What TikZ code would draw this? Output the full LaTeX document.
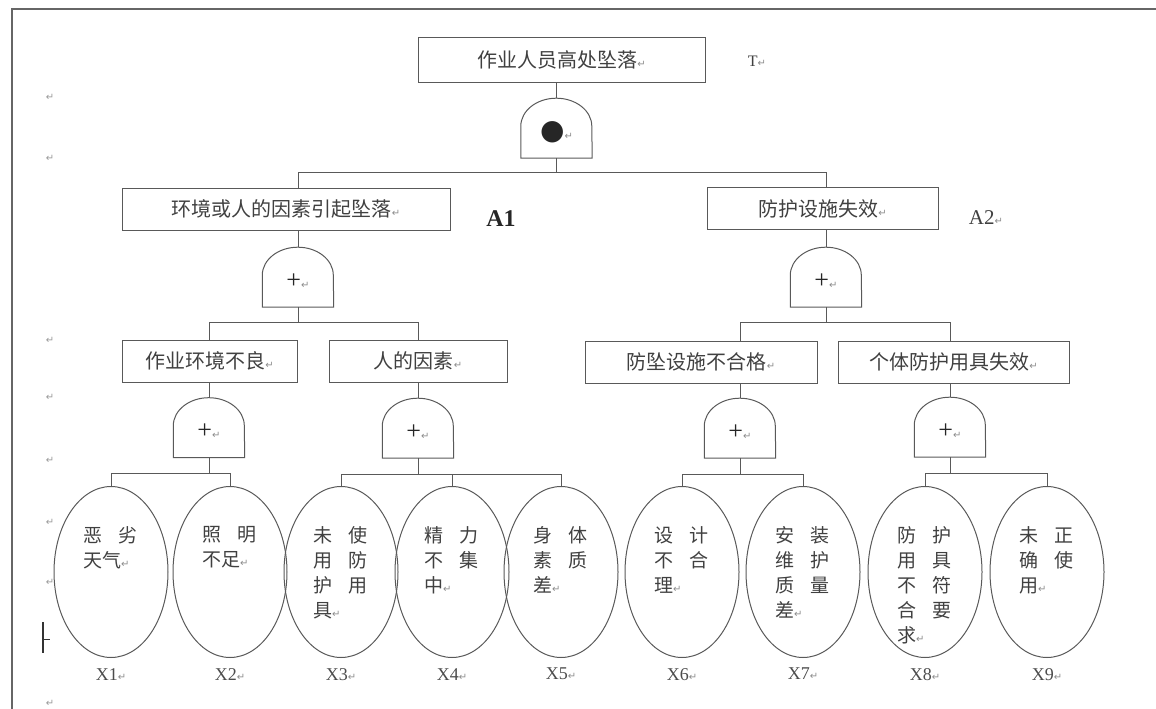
\documentclass[tikz,border=0pt]{standalone}
\usepackage{fontspec}
\setmainfont{Liberation Serif}
\newfontfamily\cjk{Noto Sans CJK SC}
\newfontfamily\symf{DejaVu Sans}
\usetikzlibrary{shapes.geometric, positioning}

\newcommand\ret{{\symf\fontsize{10}{10}\selectfont\color{black!45}↵}}
\newcommand\dotmark{{\symf\fontsize{28}{28}\selectfont ●}}
% dome outline of a gate node
\newcommand\gateline[1]{\draw[treeline] (#1.south west) -- ++(0pt,32pt)
  arc[start angle=180, end angle=0, x radius=35.5pt, y radius=28pt] -- (#1.south east) -- cycle;}

\tikzset{
  treeline/.style={draw=black!65, line width=1pt},
  evbox/.style={treeline, rectangle, minimum height=42pt, inner sep=0pt,
    font=\cjk\fontsize{20}{24}\selectfont, text=black!75},
  gsym/.style={inner sep=0pt, yshift=-4pt, font=\fontsize{26}{26}\selectfont, text=black!85},
  gatebox/.style={minimum width=71pt, minimum height=60pt, inner sep=0pt, label={[gsym]center:#1}},
  basic/.style={treeline, ellipse, minimum width=114pt, minimum height=171pt, inner sep=0pt},
  etext/.style={anchor=north west, inner sep=0pt, text width=54pt, align=left,
    font=\cjk\fontsize{19}{25}\selectfont, text=black!75},
  xlbl/.style={inner sep=1pt, font=\fontsize{18}{18}\selectfont, text=black!70},
  retmark/.style={inner sep=0pt, font=\symf\fontsize{10}{10}\selectfont, text=black!40},
}

\begin{document}
\begin{tikzpicture}[x=1pt, y=-1pt]
  \useasboundingbox (0,0) rectangle (1156,709);
  \draw[black!60, line width=1.6pt] (1156,9) -- (12,9) -- (12,709);

  % top event and first gate
  \node[evbox, minimum width=287pt, minimum height=44pt] (top) at (561.5,60) {作业人员高处坠落\ret};
  \node[font=\fontsize{16}{16}\selectfont, text=black!75] (tT) at (757,61) {T\ret};
  \node[gatebox={\dotmark\ret}] (g0) at (556.5,128) {};

  % intermediate events
  \node[evbox, minimum width=328pt] (a1) at (286,209) {环境或人的因素引起坠落\ret};
  \node[evbox, minimum width=231pt] (a2) at (822.5,208.5) {防护设施失效\ret};
  \node[font=\bfseries\fontsize{24}{24}\selectfont, text=black!85] (la1) at (501,219) {A1};
  \node[font=\fontsize{21}{21}\selectfont, text=black!75] (la2) at (986,218) {A2\ret};
  \node[gatebox={+\ret}] (ga1) at (298,277) {};
  \node[gatebox={+\ret}] (ga2) at (826,277) {};

  \node[evbox, minimum width=175pt] (b1) at (209.5,361) {作业环境不良\ret};
  \node[evbox, minimum width=178pt] (b2) at (418,361) {人的因素\ret};
  \node[evbox, minimum width=232pt] (b3) at (701,362) {防坠设施不合格\ret};
  \node[evbox, minimum width=231pt] (b4) at (953.5,362) {个体防护用具失效\ret};
  \node[gatebox={+\ret}] (gb1) at (209,427.5) {};
  \node[gatebox={+\ret}] (gb2) at (418,428) {};
  \node[gatebox={+\ret}] (gb3) at (740,428) {};
  \node[gatebox={+\ret}] (gb4) at (950,427) {};
  \foreach \g in {g0,ga1,ga2,gb1,gb2,gb3,gb4} \gateline{\g};

  % basic events
  \foreach \n/\xx/\txt in {1/111/恶\hfill 劣\\天气\ret,
      2/230/照\hfill 明\\不足\ret,
      3/341/未\hfill 使\\用\hfill 防\\护\hfill 用\\具\ret,
      4/452/精\hfill 力\\不\hfill 集\\中\ret,
      5/561/身\hfill 体\\素\hfill 质\\差\ret,
      6/682/设\hfill 计\\不\hfill 合\\理\ret,
      7/803/安\hfill 装\\维\hfill 护\\质\hfill 量\\差\ret,
      8/925/防\hfill 护\\用\hfill 具\\不\hfill 符\\合\hfill 要\\求\ret,
      9/1047/未\hfill 正\\确\hfill 使\\用\ret}{
    \node[basic] (x\n) at (\xx,572) {};
    \node[etext] (t\n) at ([shift={(-28,-46)}]x\n.center) {\txt};
    \node[xlbl, below=9pt of x\n] (l\n) {X\n\ret};
  }

  % connectors
  \draw[treeline] (g0.north |- top.south) -- (g0.north);
  \draw[treeline] (g0.south) -- ++(0,14) -| (a1.north -| ga1.north);
  \draw[treeline] (g0.south) ++(0,14) -| (a2.north -| ga2.north);
  \draw[treeline] (a1.south -| ga1.north) -- (ga1.north);
  \draw[treeline] (a2.south -| ga2.north) -- (ga2.north);
  \draw[treeline] (ga1.south) -- ++(0,15) -| (b1.north -| gb1.north);
  \draw[treeline] (ga1.south) ++(0,15) -| (b2.north -| gb2.north);
  \draw[treeline] (ga2.south) -- ++(0,15) -| (b3.north -| gb3.north);
  \draw[treeline] (ga2.south) ++(0,15) -| (b4.north -| gb4.north);
  \foreach \b in {1,2,3,4}
    \draw[treeline] (b\b.south -| gb\b.north) -- (gb\b.north);
  \foreach \g/\x in {gb1/x1,gb1/x2,gb2/x3,gb2/x4,gb2/x5,gb3/x6,gb3/x7,gb4/x8,gb4/x9}
    \draw[treeline] (\g.south) -- ++(0,16) -| (\x.north);

  % margin marks
  \foreach \yy in {97,158,340,397,460,522,582,703}
    \node[retmark] (m\yy) at (50,\yy) {↵};
  \draw[black!80, line width=2.4pt] (43,622) -- (43,653);
  \draw[black!80, line width=1pt] (43,639) -- (50,639);
\end{tikzpicture}
\end{document}
